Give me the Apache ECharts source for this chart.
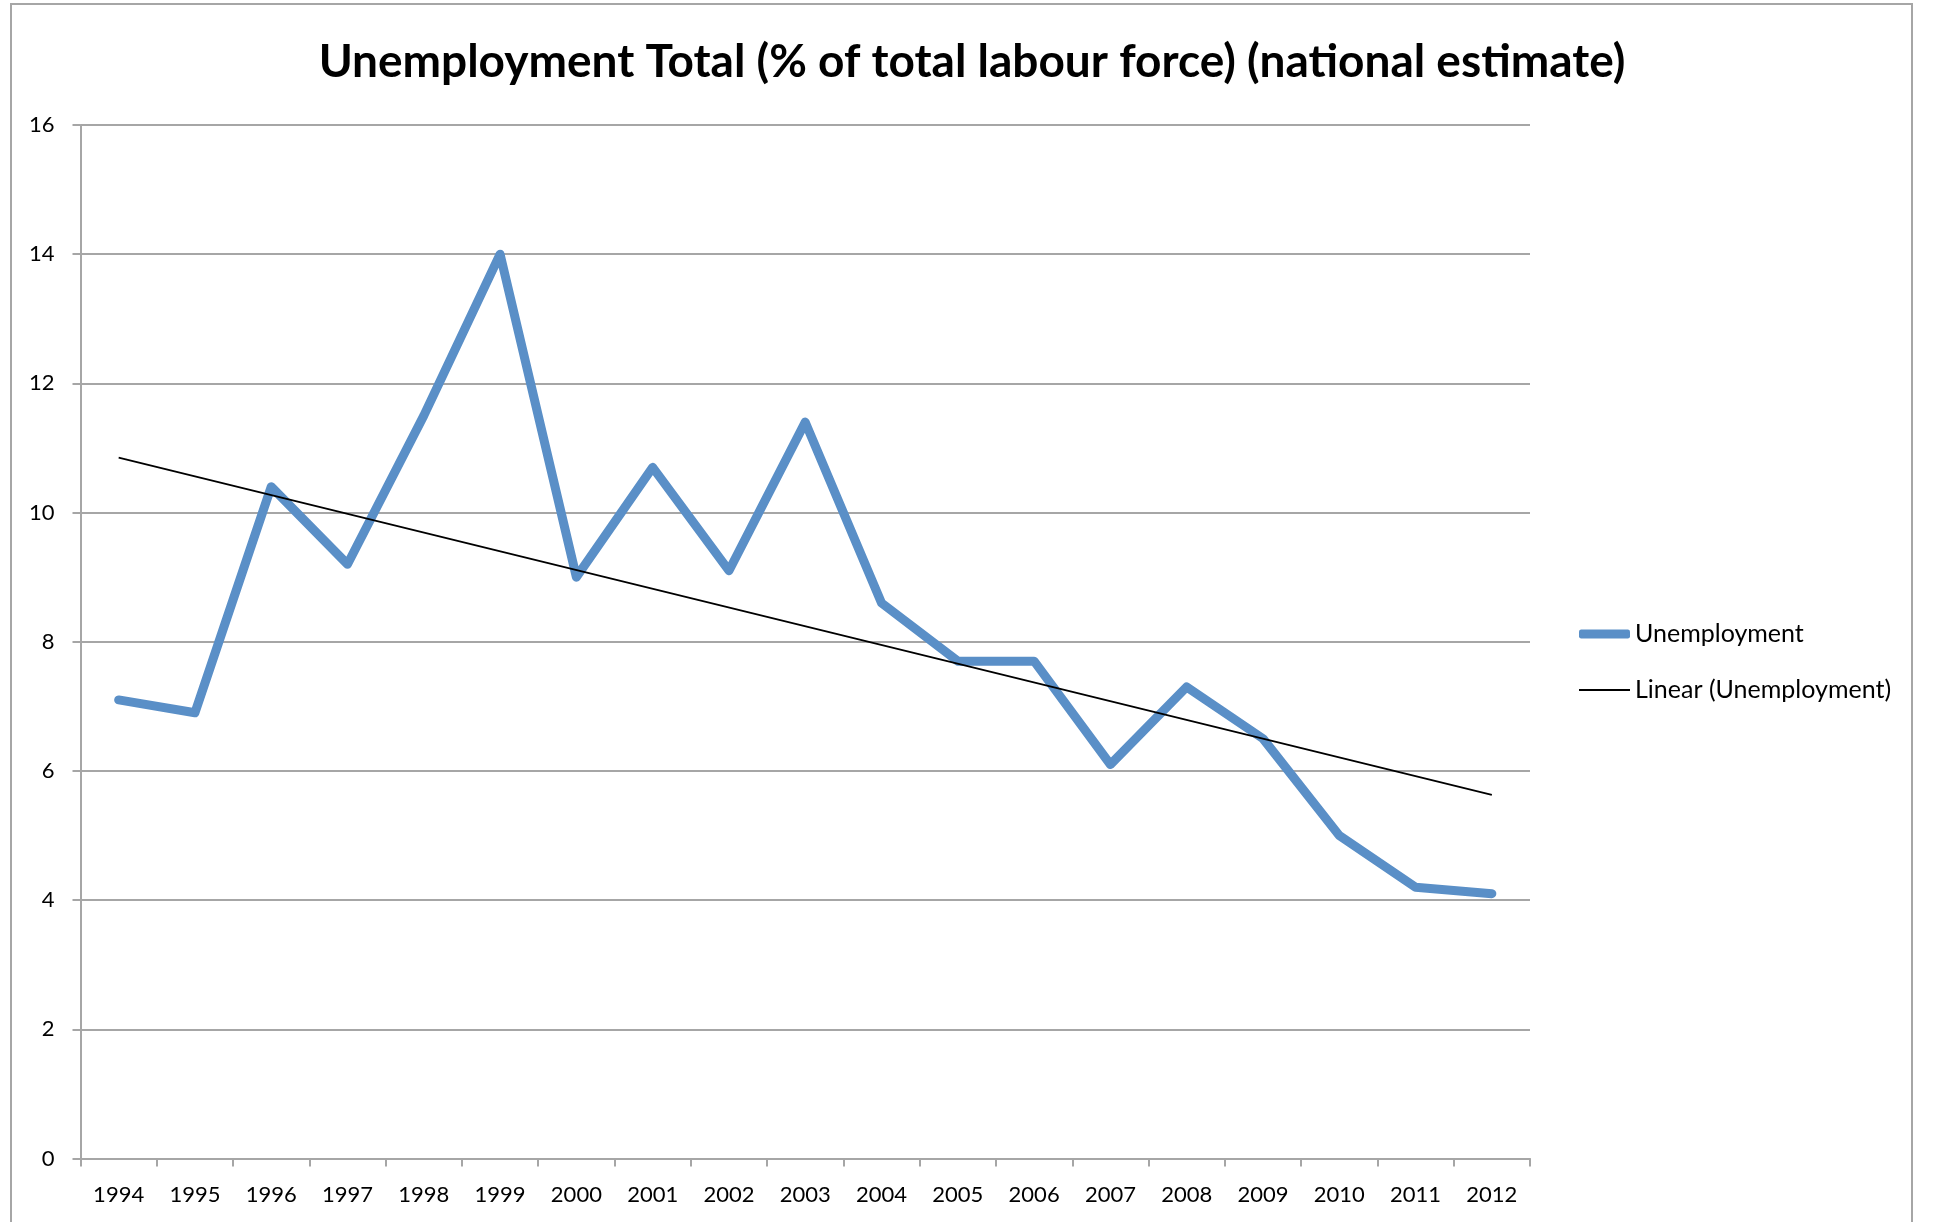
<!DOCTYPE html>
<html>
<head>
<meta charset="utf-8">
<script src="https://cdn.jsdelivr.net/npm/echarts@6/dist/echarts.min.js"></script>
<style>
html,body{margin:0;padding:0;background:#fff;}
#chart{width:1939px;height:1222px;}
</style>
</head>
<body>
<div id="chart"></div>
<script>
const years = ['1994','1995','1996','1997','1998','1999','2000','2001','2002','2003','2004','2005','2006','2007','2008','2009','2010','2011','2012'];
const unemployment = [7.1, 6.9, 10.4, 9.2, 11.5, 14.0, 9.0, 10.7, 9.1, 11.4, 8.6, 7.7, 7.7, 6.1, 7.3, 6.5, 5.0, 4.2, 4.1];
// trendline endpoints (1994 and 2012)
const trendStart = 10.85;
const trendEnd = 5.63;
const trend = years.map((y, i) => i === 0 ? trendStart : (i === years.length - 1 ? trendEnd : null));
const yTicks = [0, 2, 4, 6, 8, 10, 12, 14, 16];

const FONT = 'Lato';
const BLUE = '#5A8FC7';
const chart = echarts.init(document.getElementById('chart'), null, {renderer: 'canvas'});
chart.setOption({
  backgroundColor: '#ffffff',
  animation: false,
  title: {
    text: 'Unemployment Total (% of total labour force) (national estimate)',
    left: 967, top: 34, textAlign: 'center',
    textStyle: {fontFamily: FONT, fontWeight: 'bold', fontSize: 46, color: '#000'}
  },
  graphic: [
    {type: 'rect', shape: {x: 11, y: 4, width: 1901, height: 1240}, style: {fill: 'none', stroke: '#A6A6A6', lineWidth: 2}, silent: true}
  ],
  legend: [
    {
      left: 1579, top: 620, icon: 'roundRect',
      itemWidth: 51, itemHeight: 9, padding: [0, 0, 0, 0],
      itemStyle: {color: BLUE},
      textStyle: {fontFamily: FONT, fontSize: 25, color: '#000', lineHeight: 28},
      data: ['Unemployment']
    },
    {
      left: 1579, top: 676, icon: 'rect',
      itemWidth: 51, itemHeight: 2, padding: [0, 0, 0, 0],
      itemStyle: {color: '#000'},
      textStyle: {fontFamily: FONT, fontSize: 25, color: '#000', lineHeight: 28},
      data: ['Linear (Unemployment)']
    }
  ],
  grid: {left: 80.5, right: 409, top: 125, bottom: 63.5, containLabel: false},
  xAxis: {
    type: 'category', data: years, boundaryGap: true,
    axisLine: {lineStyle: {color: '#A6A6A6', width: 2}},
    axisTick: {show: true, length: 8, lineStyle: {color: '#A6A6A6', width: 2}},
    axisLabel: {fontFamily: FONT, fontSize: 22, color: '#000', margin: 25, interval: 0},
    splitLine: {show: false}
  },
  yAxis: {
    type: 'value', min: 0, max: 16, interval: 2,
    axisLine: {show: true, lineStyle: {color: '#A6A6A6', width: 2}},
    axisTick: {show: true, length: 8, lineStyle: {color: '#A6A6A6', width: 2}},
    axisLabel: {fontFamily: FONT, fontSize: 22, color: '#000', margin: 26,
      formatter: v => yTicks.includes(v) ? String(v) : ''},
    splitLine: {show: true, lineStyle: {color: '#A6A6A6', width: 2}}
  },
  series: [
    {
      name: 'Unemployment', type: 'line', data: unemployment,
      symbol: 'none', smooth: false,
      lineStyle: {color: BLUE, width: 9, cap: 'round', join: 'round'},
      itemStyle: {color: BLUE},
      z: 2
    },
    {
      name: 'Linear (Unemployment)', type: 'line', data: trend,
      connectNulls: true, symbol: 'none',
      lineStyle: {color: '#000', width: 1.8},
      itemStyle: {color: '#000'},
      z: 3
    }
  ]
});
</script>
</body>
</html>
